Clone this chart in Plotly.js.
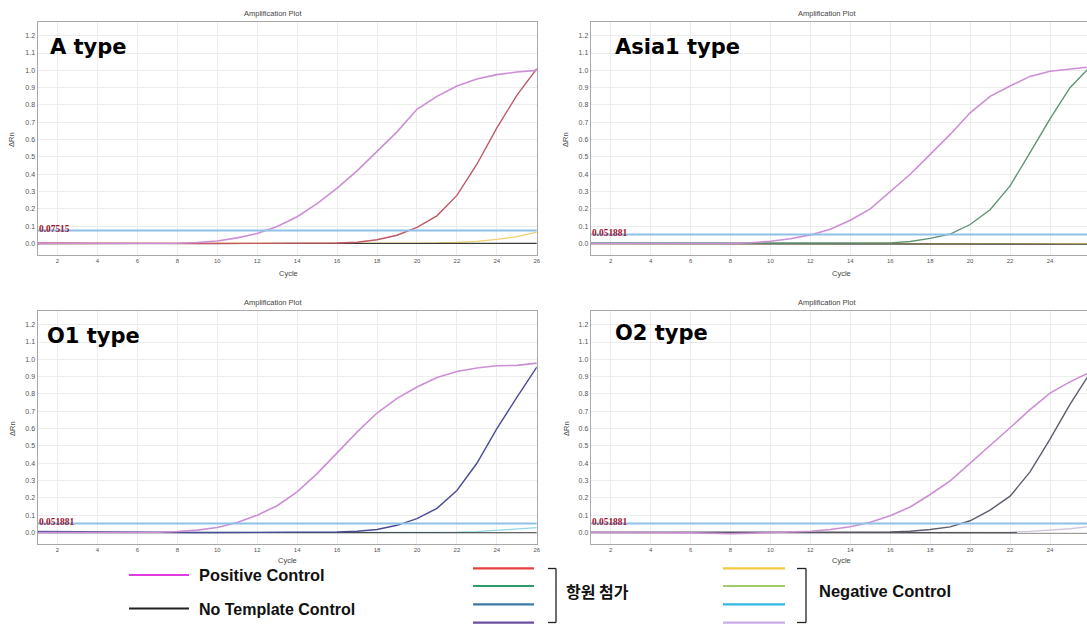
<!DOCTYPE html>
<html>
<head>
<meta charset="utf-8">
<script src="https://cdn.plot.ly/plotly-3.0.1.min.js"></script>
<style>html,body{margin:0;padding:0;background:#fff;}#chart{width:1087px;height:625px;}</style>
</head>
<body>
<div id="chart"></div>
<script>
// ---------- data ----------
const cycles = [1,2,3,4,5,6,7,8,9,10,11,12,13,14,15,16,17,18,19,20,21,22,23,24,25,26];
const xTickVals = [2,4,6,8,10,12,14,16,18,20,22,24,26];
const panelLabels = ["A type", "Asia1 type", "O1 type", "O2 type"];
const thresholds = [0.07515, 0.051881, 0.051881, 0.051881];
const thresholdLabels = ["0.07515", "0.051881", "0.051881", "0.051881"];

// A type
const posA   = [0.000,0.000,0.000,0.000,0.000,0.000,0.001,0.002,0.006,0.015,0.033,0.058,0.098,0.155,0.230,0.320,0.420,0.530,0.645,0.775,0.850,0.910,0.950,0.975,0.990,1.000];
const agA    = [0.004,0.003,0.002,0.001,0.003,0.001,0.000,0.000,0.000,0.000,0.000,0.000,0.000,0.000,0.001,0.003,0.008,0.022,0.048,0.093,0.160,0.278,0.458,0.668,0.855,1.010];
const negA   = [0.000,0.000,0.000,0.000,0.000,0.000,0.000,0.000,0.000,0.000,0.000,0.000,0.000,0.000,0.000,0.000,0.000,0.000,0.001,0.002,0.004,0.007,0.013,0.024,0.040,0.066];
const ntcA   = [0.000,0.000,0.000,0.000,0.000,0.000,0.000,0.000,0.000,0.000,0.000,0.000,0.000,0.000,0.000,0.000,0.000,0.000,0.000,0.000,0.001,0.001,0.001,0.001,0.001,0.001];
// Asia1 type
const posAs  = [0.000,0.000,0.000,0.000,0.000,0.000,0.000,0.001,0.005,0.013,0.028,0.050,0.083,0.135,0.200,0.300,0.400,0.515,0.630,0.755,0.850,0.910,0.965,0.995,1.008,1.020];
const agAs   = [0.003,0.003,0.002,0.002,0.001,0.000,0.000,0.000,0.000,0.000,0.000,0.000,0.000,0.000,0.001,0.004,0.012,0.030,0.055,0.110,0.195,0.333,0.525,0.720,0.900,1.020];
const negAs  = [0.000,0.000,0.000,0.000,0.000,0.000,0.000,0.000,0.000,0.000,0.000,0.000,0.000,0.000,0.000,0.000,0.000,0.000,0.000,0.000,0.000,0.000,0.000,0.000,0.000,0.000];
const ntcAs  = [0.000,0.000,0.000,0.000,0.000,0.000,0.000,0.000,0.000,0.000,0.000,0.000,0.000,0.000,0.000,0.000,0.000,0.000,0.000,0.000,-0.001,-0.002,-0.003,-0.004,-0.004,-0.004];
// O1 type
const posO1  = [0.000,0.000,0.000,0.000,0.000,0.000,0.002,0.006,0.014,0.029,0.058,0.100,0.155,0.235,0.340,0.460,0.580,0.690,0.775,0.840,0.895,0.930,0.950,0.963,0.965,0.978];
const agO1   = [0.006,0.005,0.003,0.001,0.000,0.000,0.000,0.000,0.000,0.000,0.000,0.000,0.000,0.000,0.001,0.003,0.008,0.018,0.042,0.080,0.140,0.243,0.400,0.600,0.780,0.955];
const negO1  = [0.000,0.000,0.000,0.000,0.000,0.000,0.000,0.000,0.000,0.000,0.000,0.000,0.000,0.000,0.000,0.000,0.000,0.000,0.000,0.000,0.000,0.002,0.006,0.012,0.020,0.028];
const ntcO1  = [0.000,0.000,0.000,0.000,-0.001,-0.001,-0.001,-0.001,-0.001,-0.001,-0.001,-0.001,-0.001,-0.001,-0.001,-0.001,-0.001,-0.001,-0.001,-0.001,-0.001,-0.001,-0.001,-0.001,-0.001,-0.001];
// O2 type
const posO2  = [0.002,0.002,0.001,0.000,-0.002,-0.002,-0.004,-0.007,-0.004,-0.001,0.002,0.008,0.018,0.034,0.060,0.097,0.148,0.220,0.298,0.400,0.500,0.605,0.710,0.805,0.870,0.925];
const agO2   = [0.002,0.002,0.001,0.000,0.000,0.000,0.000,0.000,0.000,0.000,0.000,0.000,0.000,0.000,0.001,0.003,0.008,0.018,0.033,0.068,0.130,0.210,0.350,0.540,0.740,0.920];
const negO2  = [0.000,0.000,0.000,0.000,0.000,0.000,0.000,0.000,0.000,0.000,0.000,0.000,0.000,0.000,0.000,0.000,0.000,0.000,0.000,0.000,0.000,0.003,0.007,0.013,0.022,0.035];
const ntcO2  = [0.000,0.000,0.000,0.000,0.000,0.000,0.000,0.000,0.000,0.000,0.000,0.000,0.000,0.000,0.000,0.000,0.000,0.000,0.000,0.000,-0.001,-0.002,-0.002,-0.002,-0.002,-0.002];

// colours
const posColor = "#cc8fd4";
const ntcColor = "#3a3a3a";
const antigenColors = ["#c05868", "#5f9373", "#4a4c98", "#5c5c6c"];
const negColors = ["#f0d070", "#f0d070", "#8fd6e8", "#cfc4dc"];
const thresholdColor = "#8ec0e8";
const legendSwatchColors = ["#e23be0", "#222222"];
const antigenLegendColors = ["#e5413f", "#2e9d6b", "#3b79a6", "#6c4f9c"];
const negLegendColors = ["#f4c742", "#a2cb6a", "#2fb7e6", "#c9adea"];
const legendLeftLabels = ["Positive Control", "No Template Control"];
const legendMidLabel = "항원 첨가";
const legendRightLabel = "Negative Control";

// ---------- layout helpers ----------
const W = 1087, H = 625;
const X = p => p / W;
const Y = p => 1 - p / H;

const panelSeries = [
  {pos: posA,  ag: agA,  neg: negA,  ntc: ntcA},
  {pos: posAs, ag: agAs, neg: negAs, ntc: ntcAs},
  {pos: posO1, ag: agO1, neg: negO1, ntc: ntcO1},
  {pos: posO2, ag: agO2, neg: negO2, ntc: ntcO2}
];
// geometry (pixels)
const geo = [
  {left: 37.5,  right: 536.8, top: 22,  bottom: 255, xmax: 26,   mirrorY: true},
  {left: 590.7, right: 1087,  top: 22,  bottom: 255, xmax: 1 + (1087 - 590.7) / 19.97, mirrorY: false},
  {left: 37.5,  right: 536.8, top: 311, bottom: 544, xmax: 26,   mirrorY: true},
  {left: 590.7, right: 1087,  top: 311, bottom: 544, xmax: 1 + (1087 - 590.7) / 19.97, mirrorY: false}
];
const titlePos = [[273, 14], [827, 14], [273, 302.5], [827, 302.5]];
const cyclePos = [[288, 273], [841, 273], [287, 560], [841, 560]];
const drnPos = [[12, 140], [566, 140], [12, 429], [566, 429]];
const labelPos = [[49, 47], [614, 47], [46, 336], [614, 333]];

const traces = [];
const layout = {
  width: W, height: H,
  margin: {l: 0, r: 0, t: 0, b: 0},
  paper_bgcolor: "#ffffff",
  plot_bgcolor: "#ffffff",
  showlegend: false,
  annotations: [],
  shapes: []
};

const tickFont = {family: "Liberation Sans, Arial, sans-serif", size: 6, color: "#555"};

panelSeries.forEach((s, i) => {
  const n = i + 1;
  const xa = n === 1 ? "x" : "x" + n;
  const ya = n === 1 ? "y" : "y" + n;
  const g = geo[i];
  const yTopVal = 1.279, yBotVal = -0.066;
  layout[n === 1 ? "xaxis" : "xaxis" + n] = {
    domain: [X(g.left), X(g.right)],
    anchor: ya,
    range: [1, g.xmax],
    tickmode: "array", tickvals: xTickVals,
    ticks: "", showgrid: true, gridcolor: "#ececec", gridwidth: 1,
    zeroline: false, showline: true, linecolor: "#a8a8a8", linewidth: 1, mirror: true,
    tickfont: tickFont, fixedrange: true
  };
  layout[n === 1 ? "yaxis" : "yaxis" + n] = {
    domain: [Y(g.bottom), Y(g.top)],
    anchor: xa,
    range: [yBotVal, yTopVal],
    tick0: 0, dtick: 0.1, tickformat: ".1f",
    ticks: "", showgrid: true, gridcolor: "#ececec", gridwidth: 1,
    zeroline: false, showline: true, linecolor: "#a8a8a8", linewidth: 1, mirror: g.mirrorY,
    tickfont: Object.assign({}, tickFont, {size: 7}), fixedrange: true
  };
  const base = {x: cycles, xaxis: xa, yaxis: ya, mode: "lines", hoverinfo: "skip"};
  traces.push(Object.assign({}, base, {y: s.neg, line: {color: negColors[i], width: 1.3}}));
  traces.push(Object.assign({}, base, {y: s.ntc, line: {color: ntcColor, width: 1.2}}));
  traces.push(Object.assign({}, base, {y: s.ag, line: {color: antigenColors[i], width: 1.4}}));
  traces.push(Object.assign({}, base, {y: s.pos, line: {color: posColor, width: 1.6}}));
  traces.push(Object.assign({}, base, {x: [cycles[0], cycles[cycles.length - 1]], y: [thresholds[i], thresholds[i]], line: {color: thresholdColor, width: 2}}));

  // threshold label
  layout.annotations.push({
    xref: xa, yref: ya, x: 1, y: thresholds[i], xanchor: "left", yanchor: "middle", yshift: 2,
    text: "<b>" + thresholdLabels[i] + "</b>", showarrow: false, borderpad: 0,
    font: {family: "Liberation Serif, Times New Roman, serif", size: 9.4, color: "#9c1430"}
  });
  // plot title
  layout.annotations.push({
    xref: "paper", yref: "paper", x: X(titlePos[i][0]), y: Y(titlePos[i][1]),
    xanchor: "center", yanchor: "middle", showarrow: false, text: "Amplification Plot",
    font: {family: "Liberation Sans, Arial, sans-serif", size: 7.5, color: "#444"}
  });
  // x title
  layout.annotations.push({
    xref: "paper", yref: "paper", x: X(cyclePos[i][0]), y: Y(cyclePos[i][1]),
    xanchor: "center", yanchor: "middle", showarrow: false, text: "Cycle",
    font: {family: "Liberation Sans, Arial, sans-serif", size: 7.5, color: "#444"}
  });
  // y title
  layout.annotations.push({
    xref: "paper", yref: "paper", x: X(drnPos[i][0]), y: Y(drnPos[i][1]),
    xanchor: "center", yanchor: "middle", showarrow: false, text: "ΔRn", textangle: -90,
    font: {family: "Liberation Sans, Arial, sans-serif", size: 7.5, color: "#444"}
  });
  // panel label
  layout.annotations.push({
    xref: "paper", yref: "paper", x: X(labelPos[i][0]), y: Y(labelPos[i][1]),
    xanchor: "left", yanchor: "middle", showarrow: false, borderpad: 0,
    text: "<b>" + panelLabels[i] + "</b>",
    font: {family: "DejaVu Sans, sans-serif", size: 21, color: "#000"}
  });
});

// ---------- bottom legend (decoration) ----------
function hline(x0, x1, y, color, w) {
  layout.shapes.push({type: "line", xref: "paper", yref: "paper",
    x0: X(x0), x1: X(x1), y0: Y(y), y1: Y(y), line: {color: color, width: w}});
}
function vline(x, y0, y1, color, w) {
  layout.shapes.push({type: "line", xref: "paper", yref: "paper",
    x0: X(x), x1: X(x), y0: Y(y0), y1: Y(y1), line: {color: color, width: w}});
}
function legText(x, y, t, fam, size) {
  layout.annotations.push({xref: "paper", yref: "paper", x: X(x), y: Y(y),
    xanchor: "left", yanchor: "middle", showarrow: false, borderpad: 0,
    text: "<b>" + t + "</b>", font: {family: fam, size: size, color: "#111"}});
}
const legFont = "Liberation Sans, Arial, sans-serif";
hline(129, 189, 575, legendSwatchColors[0], 2.2);
hline(129, 189, 608.5, legendSwatchColors[1], 2.2);
legText(198, 575, legendLeftLabels[0], legFont, 16.4);
legText(198, 609, legendLeftLabels[1], legFont, 16);

const rowY = [568.3, 586, 604.3, 622.7];
antigenLegendColors.forEach((c, k) => hline(473, 534, rowY[k], c, 2.2));
negLegendColors.forEach((c, k) => hline(723, 785, rowY[k], c, 2.2));
// brackets
[[548, 556], [797, 806]].forEach(b => {
  hline(b[0], b[1], 568.5, "#222", 1.3);
  hline(b[0], b[1], 622.5, "#222", 1.3);
  vline(b[1], 568.5, 622.5, "#222", 1.3);
});
legText(565, 591, legendMidLabel, "Noto Sans CJK KR, sans-serif", 16);
legText(818, 590.5, legendRightLabel, legFont, 16.5);

Plotly.newPlot("chart", traces, layout, {staticPlot: true, displayModeBar: false});
</script>
</body>
</html>
